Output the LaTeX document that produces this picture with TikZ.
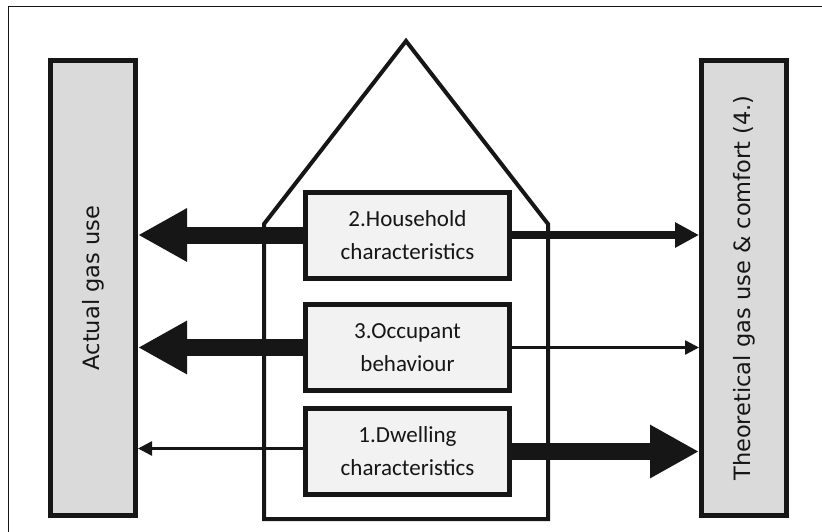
\documentclass[tikz,border=0pt]{standalone}
\usepackage{fontspec}
\setmainfont{Carlito}
\newfontfamily\labelfont{DejaVu Sans}
\usetikzlibrary{arrows.meta}
\definecolor{sidegray}{HTML}{DADADA}
\definecolor{boxgray}{HTML}{F2F2F2}
\definecolor{ink}{HTML}{161616}

\begin{document}
\begin{tikzpicture}[x=1pt, y=-1pt,
            % ----- Styles -----
                sidebox/.style={
                    draw=ink, line width=5pt, fill=sidegray,
                    minimum width=85pt, minimum height=455pt,
                    inner sep=0pt
                },
                sidelbl/.style={
                    rotate=90, font=\labelfont\fontsize{22.5}{27}\selectfont, text=ink
                },
                factor/.style={
                    draw=ink, line width=5pt, fill=boxgray,
                    minimum width=204pt, minimum height=86pt,
                    align=center, font=\fontsize{23}{33}\selectfont, text=ink
                },
                strong/.style={draw=ink, line width=17pt, -{Triangle[length=49pt, width=50pt]}},
                medium/.style={draw=ink, line width=8pt, -{Triangle[length=24pt, width=24pt]}},
                weak/.style={draw=ink, line width=2.5pt, -{Triangle[length=14pt, width=14pt]}}
            ]

% ===================== Rahmen ==================================
                \useasboundingbox (0,0) rectangle (822,532);
                \draw[ink, line width=1pt] (8,532) -- (8,7) -- (822,7);

% ===================== Haus ====================================
                \draw[ink, line width=4pt, line join=miter]
                    (264,519) -- (264,224) -- (406,41) -- (548,224) -- (548,519) -- cycle;

% ===================== Seitenbalken ============================
                \node[sidebox] (actual) at (93,288)  {};
                \node[sidelbl] at (actual.center) {Actual gas use};
                \node[sidebox] (theor)  at (744,288) {};
                \node[sidelbl] at (theor.center) {Theoretical gas use \& comfort (4.)};

% ===================== Faktoren ================================
                \node[factor] (household) at (407.5,235)   {2.Household\\characteristics};
                \node[factor] (occupant)  at (407.5,347.5) {3.Occupant\\behaviour};
                \node[factor] (dwelling)  at (407.5,451.5) {1.Dwelling\\characteristics};

% ===================== Einfluesse ==============================
                \draw[strong] (household.west) -- (household.west -| actual.east);
                \draw[medium] (household.east) -- (household.east -| theor.west);

                \draw[strong] (occupant.west) -- (occupant.west -| actual.east);
                \draw[weak]   (occupant.east) -- (occupant.east -| theor.west);

                \draw[weak]   ([yshift=3pt]dwelling.west) -- ([yshift=3pt]dwelling.west -| actual.east);
                \draw[strong] (dwelling.east) -- (dwelling.east -| theor.west);

\end{tikzpicture}
\end{document}
